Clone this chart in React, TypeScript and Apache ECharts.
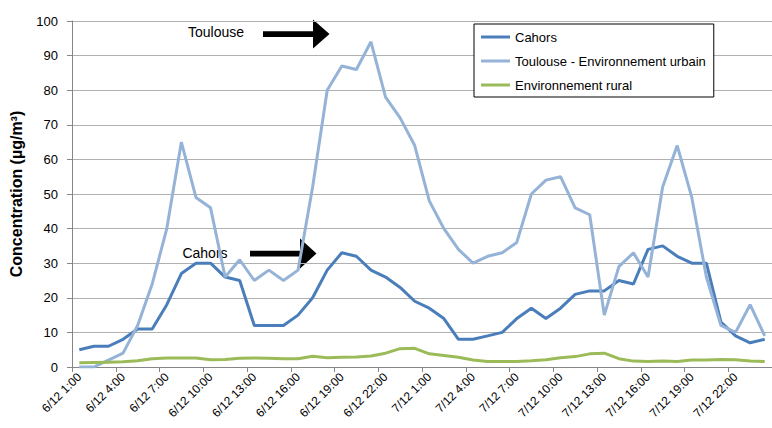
import React, { useEffect, useRef } from "react";
import * as echarts from "echarts";

const categories = [
  "6/12 1:00", "6/12 2:00", "6/12 3:00", "6/12 4:00", "6/12 5:00", "6/12 6:00",
  "6/12 7:00", "6/12 8:00", "6/12 9:00", "6/12 10:00", "6/12 11:00", "6/12 12:00",
  "6/12 13:00", "6/12 14:00", "6/12 15:00", "6/12 16:00", "6/12 17:00", "6/12 18:00",
  "6/12 19:00", "6/12 20:00", "6/12 21:00", "6/12 22:00", "6/12 23:00", "7/12 0:00",
  "7/12 1:00", "7/12 2:00", "7/12 3:00", "7/12 4:00", "7/12 5:00", "7/12 6:00",
  "7/12 7:00", "7/12 8:00", "7/12 9:00", "7/12 10:00", "7/12 11:00", "7/12 12:00",
  "7/12 13:00", "7/12 14:00", "7/12 15:00", "7/12 16:00", "7/12 17:00", "7/12 18:00",
  "7/12 19:00", "7/12 20:00", "7/12 21:00", "7/12 22:00", "7/12 23:00", "8/12 0:00",
];

const cahors = [
  5, 6, 6, 8, 11, 11, 18, 27, 30, 30,
  26, 25, 12, 12, 12, 15, 20, 28, 33, 32,
  28, 26, 23, 19, 17, 14, 8, 8, 9, 10,
  14, 17, 14, 17, 21, 22, 22, 25, 24, 34,
  35, 32, 30, 30, 13, 9, 7, 8,
];

const toulouse = [
  0, 0, 2, 4, 12, 24, 40, 65, 49, 46,
  26, 31, 25, 28, 25, 28, 52, 80, 87, 86,
  94, 78, 72, 64, 48, 40, 34, 30, 32, 33,
  36, 50, 54, 55, 46, 44, 15, 29, 33, 26,
  52, 64, 49, 26, 12, 10, 18, 9,
];

const rural = [
  1.2, 1.3, 1.4, 1.5, 1.8, 2.4, 2.6, 2.6, 2.6, 2.1,
  2.2, 2.5, 2.6, 2.5, 2.4, 2.4, 3.1, 2.7, 2.8, 2.9,
  3.2, 4.0, 5.3, 5.4, 3.8, 3.3, 2.8, 2.0, 1.6, 1.6,
  1.6, 1.8, 2.1, 2.7, 3.0, 3.8, 4.0, 2.4, 1.7, 1.6,
  1.7, 1.6, 2.0, 2.0, 2.2, 2.1, 1.7, 1.6,
];

const seriesNames = ["Cahors", "Toulouse - Environnement urbain", "Environnement rural"];
const seriesColors = ["#4a7ebb", "#95b3d7", "#9bbb59"];
const yAxisTitle = "Concentration (µg/m³)";
const annotations = ["Toulouse", "Cahors"];

const FONT = "Liberation Sans, Arial, sans-serif";

export default function App() {
  const ref = useRef<HTMLDivElement>(null);

  useEffect(() => {
    if (!ref.current) return;
    const chart = echarts.init(ref.current, null, { renderer: "svg" });
    const values = [cahors, toulouse, rural];
    chart.setOption({
      animation: false,
      backgroundColor: "#ffffff",
      textStyle: { fontFamily: FONT },
      grid: { left: 67, top: 21, bottom: 61, right: -5, containLabel: false },
      legend: {
        orient: "vertical",
        left: 474,
        top: 24,
        data: seriesNames,
        icon: "rect",
        itemWidth: 29,
        itemHeight: 3,
        itemGap: 8,
        padding: [5, 8, 4, 7],
        borderColor: "#000000",
        borderWidth: 1,
        backgroundColor: "#ffffff",
        textStyle: { fontFamily: FONT, fontSize: 13, color: "#000000", lineHeight: 16 },
      },
      xAxis: {
        type: "category",
        data: categories,
        boundaryGap: true,
        axisLine: { lineStyle: { color: "#868686", width: 1 } },
        axisTick: { show: true, interval: 2, length: 5, lineStyle: { color: "#868686" } },
        axisLabel: {
          interval: 2,
          rotate: 45,
          margin: 8,
          fontSize: 12,
          color: "#000000",
          fontFamily: FONT,
        },
        splitLine: { show: false },
      },
      yAxis: {
        type: "value",
        min: 0,
        max: 100,
        interval: 10,
        name: yAxisTitle,
        nameLocation: "middle",
        nameGap: 48,
        nameTextStyle: { fontFamily: FONT, fontSize: 16, fontWeight: "bold", color: "#000000" },
        axisLine: { show: true, lineStyle: { color: "#868686", width: 1 } },
        axisTick: { show: true, length: 5, lineStyle: { color: "#868686" } },
        axisLabel: { fontSize: 13, color: "#000000", margin: 14, fontFamily: FONT },
        splitLine: { show: true, lineStyle: { color: "#b0b0b0", width: 1 } },
      },
      series: values.map((v, i) => ({
        name: seriesNames[i],
        type: "line",
        data: v,
        showSymbol: false,
        symbol: "none",
        color: seriesColors[i],
        lineStyle: { color: seriesColors[i], width: 3 },
        z: 2 + i,
      })),
      graphic: [
        {
          type: "text",
          x: 216,
          y: 32,
          style: {
            text: annotations[0],
            fontFamily: FONT,
            fontSize: 14,
            fill: "#000000",
            align: "center",
            verticalAlign: "middle",
          },
        },
        {
          type: "polygon",
          shape: {
            points: [
              [263, 31.3], [313, 31.3], [313, 19.5], [329.5, 34], [313, 48.5], [313, 37], [263, 37],
            ],
          },
          style: { fill: "#000000" },
        },
        {
          type: "text",
          x: 205,
          y: 253,
          style: {
            text: annotations[1],
            fontFamily: FONT,
            fontSize: 14,
            fill: "#000000",
            align: "center",
            verticalAlign: "middle",
          },
        },
        {
          type: "polygon",
          shape: {
            points: [
              [250, 250.8], [300, 250.8], [300, 238.5], [316.5, 253.5], [300, 268.5], [300, 256.5], [250, 256.5],
            ],
          },
          style: { fill: "#000000" },
        },
      ],
    });
    return () => chart.dispose();
  }, []);

  return (
    <div
      ref={ref}
      style={{ position: "fixed", left: 0, top: 0, width: 772, height: 428, background: "#ffffff" }}
    />
  );
}
